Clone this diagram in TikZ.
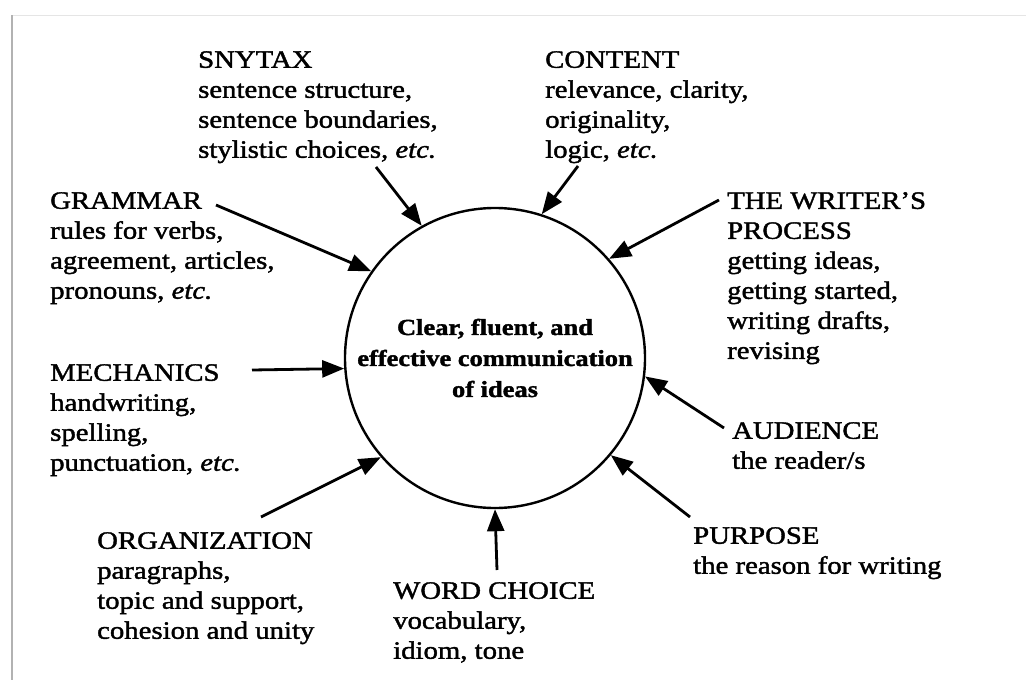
\documentclass[tikz,border=0pt]{standalone}
\usepackage{fontspec}
\setmainfont{Liberation Serif}[FakeStretch = 1.15, FakeBold = 1.6]
\usepackage{tikz}
\usetikzlibrary{arrows.meta}
\tikzset{lbl/.style = {anchor = north west, align = left, inner sep = 0, font = \fontsize{25}{30}\selectfont}}
\tikzset{hub/.style = {draw, circle, line width = 2.4pt, minimum size = 300, inner sep = 0, align = center, font = \bfseries\fontsize{23}{31}\selectfont}}
\tikzset{arr/.style = {line width = 2.8pt, -{Triangle[length = 22pt, width = 17pt]}}}

\begin{document}
\begin{tikzpicture}[x = 1pt, y = -1pt]
      \useasboundingbox (0, 0) rectangle (1026, 680);
      \fill [white] (0, 0) rectangle (1026, 680);
      \draw [gray!20, line width = 1pt] (12, 15) -- (1026, 15);
      \draw [gray!60, line width = 2pt] (12, 15) -- (12, 680);
      \node [hub] (hub) at (495, 358) {Clear, fluent, and\\effective communication\\of ideas};
      \node [lbl] (syntax) at (198, 51) {SNYTAX\\sentence structure,\\sentence boundaries,\\stylistic choices, \textit{etc.}};
      \node [lbl] (content) at (545, 51) {CONTENT\\relevance, clarity,\\originality,\\logic, \textit{etc.}};
      \node [lbl] (grammar) at (50, 192) {GRAMMAR\\rules for verbs,\\agreement, articles,\\pronouns, \textit{etc.}};
      \node [lbl] (process) at (727, 192) {THE WRITER'S\\PROCESS\\getting ideas,\\getting started,\\writing drafts,\\revising};
      \node [lbl] (mechanics) at (50, 364) {MECHANICS\\handwriting,\\spelling,\\punctuation, \textit{etc.}};
      \node [lbl] (audience) at (732, 422) {AUDIENCE\\the reader/s};
      \node [lbl] (organization) at (97, 532) {ORGANIZATION\\paragraphs,\\topic and support,\\cohesion and unity};
      \node [lbl] (wordchoice) at (393, 582) {WORD CHOICE\\vocabulary,\\idiom, tone};
      \node [lbl] (purpose) at (693, 527) {PURPOSE\\the reason for writing};
      % arrow tails
      \coordinate (syntax-t) at (376, 167);
      \coordinate (content-t) at (578, 166);
      \coordinate (grammar-t) at (216, 205);
      \coordinate (process-t) at (719, 200);
      \coordinate (mechanics-t) at (252, 370);
      \coordinate (audience-t) at (724, 428);
      \coordinate (organization-t) at (261, 517);
      \coordinate (wordchoice-t) at (497, 570);
      \coordinate (purpose-t) at (690, 517);
      \draw [arr] (syntax-t) -- (hub.119);
      \draw [arr] (content-t) -- (hub.72);
      \draw [arr] (grammar-t) -- (hub.145);
      \draw [arr] (process-t) -- (hub.41);
      \draw [arr] (mechanics-t) -- (hub.184);
      \draw [arr] (audience-t) -- (hub.353);
      \draw [arr] (organization-t) -- (hub.221);
      \draw [arr] (wordchoice-t) -- (hub.270);
      \draw [arr] (purpose-t) -- (hub.320);
    \end{tikzpicture}
\end{document}
